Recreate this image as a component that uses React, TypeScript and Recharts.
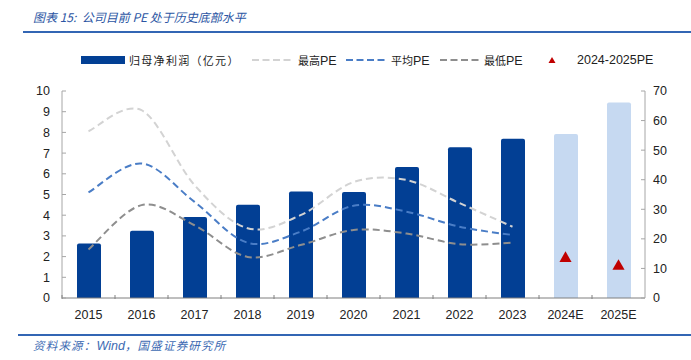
import React from 'react';
import { ComposedChart, Bar, Line, Scatter, XAxis, YAxis, Cell } from 'recharts';

const categories = ['2015', '2016', '2017', '2018', '2019', '2020', '2021', '2022', '2023', '2024E', '2025E'];
const netProfit = [2.63, 3.25, 3.91, 4.5, 5.14, 5.12, 6.33, 7.28, 7.69, 7.92, 9.45];
const maxPE: (number | null)[] = [56.4, 63.5, 38.2, 23.6, 28.0, 39.2, 39.9, 32.1, 24.1, null, null];
const avgPE: (number | null)[] = [35.7, 45.5, 32.5, 18.7, 22.4, 31.2, 29.2, 24.1, 21.3, null, null];
const minPE: (number | null)[] = [16.4, 31.4, 24.6, 13.9, 17.9, 23.0, 21.8, 18.2, 18.7, null, null];
const forecastPE: (number | null)[] = [null, null, null, null, null, null, null, null, null, 13.4, 10.7];
const leftTicks = [0, 1, 2, 3, 4, 5, 6, 7, 8, 9, 10];
const rightTicks = [0, 10, 20, 30, 40, 50, 60, 70];

const data = categories.map((c, i) => ({
  year: c,
  profit: netProfit[i],
  maxPE: maxPE[i],
  avgPE: avgPE[i],
  minPE: minPE[i],
  fPE: forecastPE[i],
  forecast: c.endsWith('E'),
}));

const DARK = '#023F94';
const LIGHT = '#C6D9F1';
const C_MAX = '#D3D3D3';
const C_AVG = '#4A7DC6';
const C_MIN = '#8E8E8E';
const RED = '#C00000';
const NUM_FONT = '"Liberation Sans", Arial, sans-serif';
const CJK_FONT = '"Noto Sans CJK SC", "Noto Sans", sans-serif';

// Excel-like smooth (uniform Catmull-Rom) curve factory
function excelSmooth(context: any) {
  let pts: [number, number][] = [];
  return {
    areaStart() {},
    areaEnd() {},
    lineStart() {
      pts = [];
    },
    point(x: number, y: number) {
      pts.push([+x, +y]);
    },
    lineEnd() {
      if (!pts.length) return;
      context.moveTo(pts[0][0], pts[0][1]);
      if (pts.length === 1) return;
      for (let i = 0; i < pts.length - 1; i++) {
        const p0 = pts[i - 1] || pts[i];
        const p1 = pts[i];
        const p2 = pts[i + 1];
        const p3 = pts[i + 2] || p2;
        const c1x = p1[0] + (p2[0] - p0[0]) / 6;
        const c1y = p1[1] + (p2[1] - p0[1]) / 6;
        const c2x = p2[0] - (p3[0] - p1[0]) / 6;
        const c2y = p2[1] - (p3[1] - p1[1]) / 6;
        context.bezierCurveTo(c1x, c1y, c2x, c2y, p2[0], p2[1]);
      }
    },
  };
}

const XTick = (props: any) => {
  const { x, y, payload } = props;
  const half = payload && typeof payload.offset === 'number' ? payload.offset : 26.5;
  return (
    <g>
      <line x1={x - half} x2={x - half} y1={y - 11} y2={y - 7} stroke="#808080" strokeWidth={1} />
      <text x={x} y={y + 13} textAnchor="middle" fontSize={12.5} fill="#222" fontFamily={NUM_FONT}>
        {payload.value}
      </text>
    </g>
  );
};

const DashSwatch = ({ color }: { color: string }) => (
  <svg width={40} height={10} style={{ display: 'block' }}>
    <line x1={1} x2={40} y1={5} y2={5} stroke={color} strokeWidth={2} strokeDasharray="7 3.5" />
  </svg>
);

const legendText: React.CSSProperties = {
  position: 'absolute',
  top: 52,
  fontSize: 11,
  color: '#222',
  whiteSpace: 'nowrap',
  lineHeight: '16px',
  fontFamily: CJK_FONT,
};
const pe: React.CSSProperties = { fontFamily: NUM_FONT, fontSize: 12.5 };

export default function App() {
  return (
    <div style={{ position: 'absolute', left: 0, top: 0, width: 691, height: 360, background: '#fff', overflow: 'hidden' }}>
      {/* Title */}
      <div
        style={{
          position: 'absolute',
          left: 33,
          top: 8,
          fontSize: 12,
          fontStyle: 'italic',
          color: '#2B55A3',
          fontFamily: CJK_FONT,
          whiteSpace: 'nowrap',
          lineHeight: '18px',
        }}
      >
        图表 15:&nbsp;&nbsp;公司目前 PE 处于历史底部水平
      </div>
      <div style={{ position: 'absolute', left: 23, top: 31, width: 668, height: 2, background: '#3366B4' }} />

      {/* Legend */}
      <div style={{ position: 'absolute', left: 81, top: 56, width: 44, height: 8, background: DARK }} />
      <div style={{ ...legendText, left: 129, letterSpacing: 1.3 }}>归母净利润（亿元）</div>
      <div style={{ position: 'absolute', left: 251, top: 55 }}><DashSwatch color={C_MAX} /></div>
      <div style={{ ...legendText, left: 298 }}>
        最高<span style={pe}>PE</span>
      </div>
      <div style={{ position: 'absolute', left: 345, top: 55 }}><DashSwatch color={C_AVG} /></div>
      <div style={{ ...legendText, left: 391 }}>
        平均<span style={pe}>PE</span>
      </div>
      <div style={{ position: 'absolute', left: 439, top: 55 }}><DashSwatch color={C_MIN} /></div>
      <div style={{ ...legendText, left: 484 }}>
        最低<span style={pe}>PE</span>
      </div>
      <svg style={{ position: 'absolute', left: 548, top: 56 }} width={8} height={8}>
        <polygon points="4,1 7.5,7 0.5,7" fill={RED} />
      </svg>
      <div style={{ ...legendText, left: 577, fontFamily: NUM_FONT, fontSize: 12.5 }}>2024-2025PE</div>

      {/* Chart */}
      <div style={{ position: 'absolute', left: 0, top: 0 }}>
        <ComposedChart
          width={691}
          height={360}
          data={data}
          margin={{ top: 91, right: 0, bottom: 32, left: 0 }}
          barCategoryGap={0}
        >
          <XAxis
            dataKey="year"
            xAxisId="x"
            height={30}
            axisLine={{ stroke: '#7F7F7F', strokeWidth: 1 }}
            tickLine={false}
            tick={<XTick />}
            interval={0}
          />
          <YAxis
            yAxisId="left"
            orientation="left"
            width={62}
            domain={[0, 10]}
            ticks={leftTicks}
            interval={0}
            axisLine={{ stroke: '#A6A6A6' }}
            tickLine={{ stroke: '#A6A6A6' }}
            tickSize={-4}
            tickMargin={16}
            tick={{ fontSize: 12.5, fill: '#222', fontFamily: NUM_FONT }}
          />
          <YAxis
            yAxisId="right"
            orientation="right"
            width={46}
            domain={[0, 70]}
            ticks={rightTicks}
            interval={0}
            axisLine={{ stroke: '#A6A6A6' }}
            tickLine={{ stroke: '#A6A6A6' }}
            tickSize={-4}
            tickMargin={12}
            tick={{ fontSize: 12.5, fill: '#222', fontFamily: NUM_FONT }}
          />
          <Bar dataKey="profit" xAxisId="x" yAxisId="left" barSize={24} isAnimationActive={false} radius={[2, 2, 0, 0]}>
            {data.map((d, i) => (
              <Cell key={i} fill={d.forecast ? LIGHT : DARK} />
            ))}
          </Bar>
          <Line
            dataKey="maxPE"
            xAxisId="x"
            yAxisId="right"
            type={excelSmooth as any}
            stroke={C_MAX}
            strokeWidth={2}
            strokeDasharray="7 4"
            dot={false}
            activeDot={false}
            isAnimationActive={false}
          />
          <Line
            dataKey="avgPE"
            xAxisId="x"
            yAxisId="right"
            type={excelSmooth as any}
            stroke={C_AVG}
            strokeWidth={2}
            strokeDasharray="7 4"
            dot={false}
            activeDot={false}
            isAnimationActive={false}
          />
          <Line
            dataKey="minPE"
            xAxisId="x"
            yAxisId="right"
            type={excelSmooth as any}
            stroke={C_MIN}
            strokeWidth={2}
            strokeDasharray="7 4"
            dot={false}
            activeDot={false}
            isAnimationActive={false}
          />
          <Scatter dataKey="fPE" xAxisId="x" yAxisId="right" fill={RED} shape="triangle" isAnimationActive={false} />
        </ComposedChart>
      </div>

      {/* Footer */}
      <div style={{ position: 'absolute', left: 18, top: 334, width: 673, height: 2, background: '#3366B4' }} />
      <div
        style={{
          position: 'absolute',
          left: 33,
          top: 337,
          fontSize: 11.5,
          letterSpacing: 1.2,
          fontStyle: 'italic',
          color: '#3D6BB3',
          fontFamily: CJK_FONT,
          whiteSpace: 'nowrap',
          lineHeight: '16px',
        }}
      >
        资料来源：<span style={{ fontFamily: NUM_FONT, fontSize: 12.5, letterSpacing: 0 }}>Wind</span>，国盛证券研究所
      </div>
    </div>
  );
}
